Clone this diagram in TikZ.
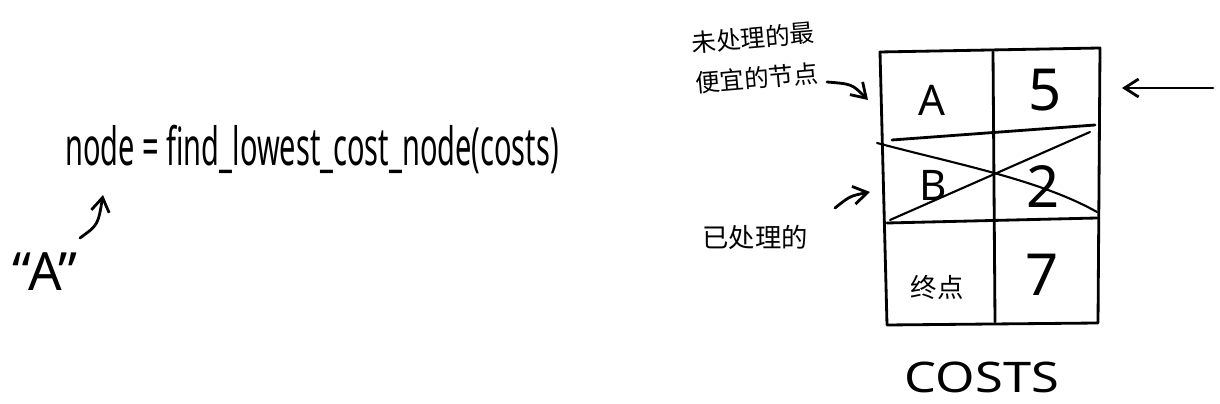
\documentclass[tikz,border=0pt]{standalone}
\usepackage{fontspec}
\setmainfont{Noto Sans}
\newfontfamily\cjk{Noto Sans CJK SC}
\usetikzlibrary{arrows.meta,positioning}

\begin{document}
\begin{tikzpicture}[x=0.02cm,y=-0.02cm,
  line width=1.6pt, line cap=round, line join=round,
  arr/.style={-{Straight Barb[length=2.8mm,width=3.6mm]}, line width=1.6pt},
  big/.style={font=\fontsize{24}{28}\selectfont, inner sep=0pt},
  num/.style={font=\fontsize{33}{38}\selectfont, inner sep=0pt},
  cn/.style={font=\cjk\fontsize{15}{20}\selectfont, inner sep=1pt}]
  \useasboundingbox (0,0) rectangle (1220,404);
  % the costs table
  \draw (880,52) -- (1100,48) -- (1098,323) -- (887,325) -- cycle;
  \draw (993,52) -- (995,322);
  \draw (892,140) -- (1095,125);
  \draw (887,223) -- (1097,218);
  % row B crossed out
  \draw[line width=1.2pt] (877,143) .. controls (960,165) and (1040,180) .. (1097,212);
  \draw[line width=1.2pt] (890,220) -- (1090,132);
  \node[big] (cA) at (932,100) {A};
  \node[num] (c5) at (1045,90) {5};
  \node[big] (cB) at (933,185) {B};
  \node[num] (c2) at (1043,187) {2};
  \node[cn] (cE) at (937,287) {终点};
  \node[num] (c7) at (1042,275) {7};
  \node[big, xscale=1.2] (title) at (982,377) {COSTS};
  % pointers into the table
  \coordinate (pA) at (868,100);
  \coordinate (pB) at (870,192);
  \coordinate (pR) at (1122,88);
  \coordinate (qR) at (1213,88);
  \node[cn, font=\cjk\fontsize{14}{23}\selectfont, rotate=5, align=center] (l1) at (755,58) {未处理的最\\便宜的节点};
  \node[cn] (l3) at (755,237) {已处理的};
  \coordinate (sA) at (827,82);
  \coordinate (sB) at (835,208);
  \draw[arr] (sA) .. controls (852,84) .. (pA);
  \draw[arr] (sB) .. controls (850,196) .. (pB);
  \draw[arr] (qR) -- (pR);
  % the call and its result
  \node[font=\fontsize{30}{34}\selectfont, xscale=0.55, inner sep=0pt] (call) at (312,150)
    {node = find\_lowest\_cost\_node(costs)};
  \node[font=\fontsize{30}{34}\selectfont, inner sep=0pt] (res) at (45,272) {“A”};
  \coordinate (sR) at (80,238);
  \coordinate (pC) at (103,195);
  \draw[arr] (sR) .. controls (98,225) .. (pC);
\end{tikzpicture}
\end{document}
